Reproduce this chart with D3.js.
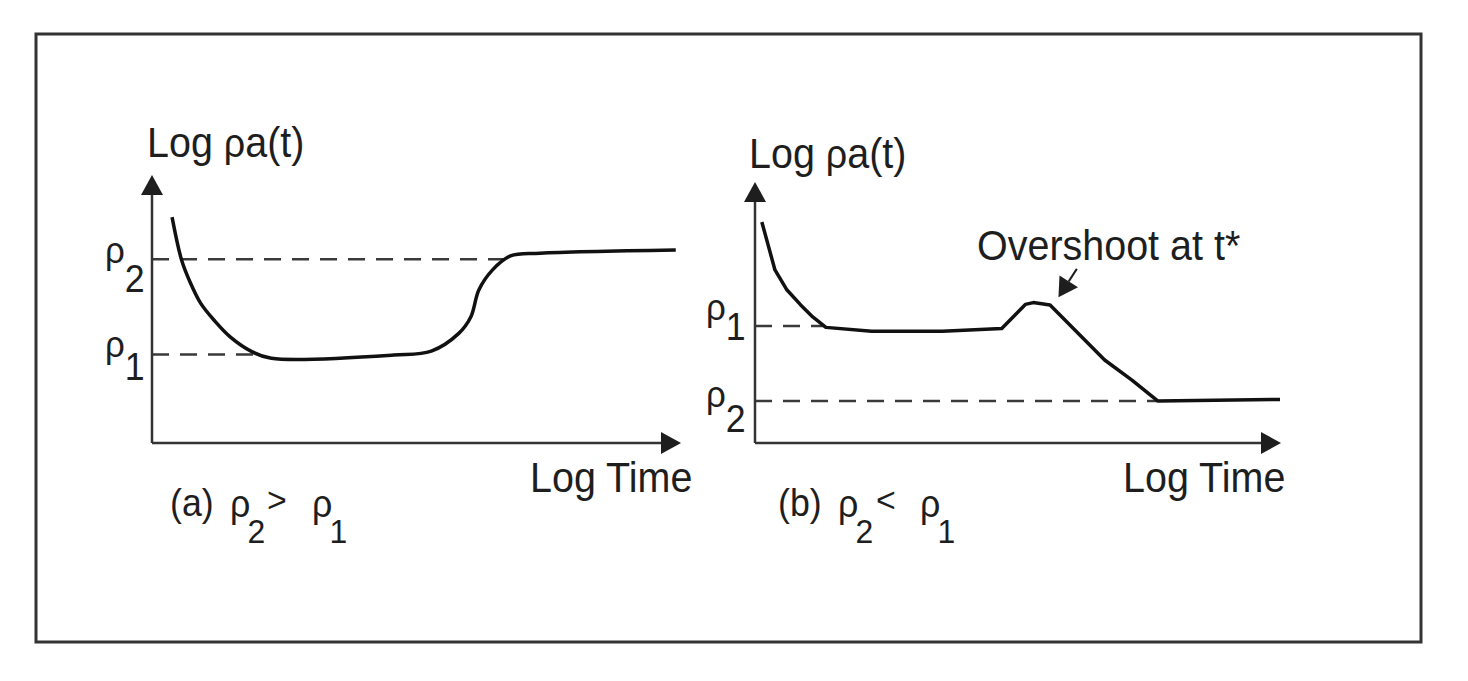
<!DOCTYPE html>
<html>
<head>
<meta charset="utf-8">
<script src="https://cdn.jsdelivr.net/npm/d3@7"></script>
<style>
  body { margin: 0; background: #fff; }
  text { font-family: "Liberation Sans", Arial, sans-serif; fill: #1e1e1e; }
</style>
</head>
<body>
<script>
// readings, x = log time, y = log rho (both 0..10 per panel)
const curveA = [[0.38,8.43],[0.56,6.83],[0.72,6.01],[0.92,5.22],[1.19,4.55],[1.48,3.96],
                [1.89,3.41],[2.26,3.16],[4.58,3.28],[5.29,3.43],[5.81,4.09],[6.04,4.71],
                [6.19,5.71],[6.45,6.46],[6.79,6.98],[7.35,7.08],[9.92,7.20]];
const curveB = [[0.13,8.47],[0.38,6.63],[0.61,5.86],[0.87,5.29],[1.10,4.83],[1.35,4.43],
                [2.22,4.28],[3.57,4.28],[4.70,4.39],[5.15,5.31],[5.30,5.38],[5.62,5.29],
                [6.66,3.18],[7.18,2.41],[7.67,1.61],[10.0,1.67]];

// dashed reference levels
const levelNamesA = ["2", "1"];
const levelValuesA = [6.86, 3.30];
const levelEndsA = [6.74, 2.0];
const levelNamesB = ["1", "2"];
const levelValuesB = [4.48, 1.61];
const levelEndsB = [1.31, 7.66];

// overshoot pointer (from, to) in panel b units
const overshootFrom = [6.13, 6.67];
const overshootTo = [5.78, 5.58];

const captionA = ["(a)", "2", ">", "1"];
const captionB = ["(b)", "2", "<", "1"];

const W = 1468, H = 681;
const svg = d3.select("body").append("svg")
    .attr("width", W)
    .attr("height", H);

svg.append("rect")
    .attr("x", 36).attr("y", 34)
    .attr("width", 1385).attr("height", 608)
    .attr("fill", "none")
    .attr("stroke", "#333")
    .attr("stroke-width", 3);

function txt(g, x, y, str, size) {
  return g.append("text")
      .attr("transform", `translate(${x},${y}) scale(0.94,1)`)
      .attr("font-size", size)
      .text(str);
}

// rho with a lowered index, one text element
function rho(g, x, y, sub, drop, rSize, sSize, gap) {
  const t = g.append("text")
      .attr("transform", `translate(${x},${y}) scale(0.94,1)`);
  t.append("tspan").attr("font-size", rSize).text("\u03c1");
  t.append("tspan").attr("font-size", sSize).attr("dx", gap).attr("dy", drop).text(sub);
  return t;
}

const panels = [
  {curve: curveA, names: levelNamesA, values: levelValuesA, ends: levelEndsA,
   x0: 152, x1: 680, yTop: 175, yLab: [147, 157], tLab: 530, rhoX: 105,
   offs: [[4, 33], [2, 25]], caption: captionA, capX: [170, 230, 267, 312]},
  {curve: curveB, names: levelNamesB, values: levelValuesB, ends: levelEndsB,
   x0: 755, x1: 1280, yTop: 182, yLab: [749, 168], tLab: 1123, rhoX: 706,
   offs: [[-6, 14], [6, 31]], caption: captionB, capX: [778, 838, 876, 920]}
];

const baseY = 443;

panels.forEach((p, i) => {
  const g = svg.append("g");
  const x = d3.scaleLinear().domain([0, 10]).range([p.x0, p.x1]);
  const y = d3.scaleLinear().domain([0, 10]).range([baseY, p.yTop]);

  // dashed levels
  p.values.forEach((v, k) => {
    g.append("line")
        .attr("x1", x(0)).attr("x2", x(p.ends[k]))
        .attr("y1", y(v)).attr("y2", y(v))
        .attr("stroke", "#3a3a3a")
        .attr("stroke-width", 2.5)
        .attr("stroke-dasharray", "17,11");
    const o = p.offs[k];
    rho(g, p.rhoX, y(v) + o[0], p.names[k], o[1] - o[0], 37, 38, 0);
  });

  // axes with arrow heads
  g.append("line")
      .attr("x1", x(0)).attr("x2", x(0))
      .attr("y1", baseY).attr("y2", y(10) + 12)
      .attr("stroke", "#333").attr("stroke-width", 2.5);
  g.append("line")
      .attr("x1", x(0)).attr("x2", x(10) - 12)
      .attr("y1", baseY).attr("y2", baseY)
      .attr("stroke", "#333").attr("stroke-width", 2.5);
  g.append("path")
      .attr("d", `M${x(0)},${y(10)}L${x(0) - 11},${y(10) + 20}L${x(0) + 11},${y(10) + 20}Z`)
      .attr("fill", "#1e1e1e");
  g.append("path")
      .attr("d", `M${x(10) + 1},${baseY}L${x(10) - 19},${baseY - 11}L${x(10) - 19},${baseY + 11}Z`)
      .attr("fill", "#1e1e1e");

  // curve
  const line = d3.line()
      .x(d => x(d[0]))
      .y(d => y(d[1]))
      .curve(i === 0 ? d3.curveCatmullRom.alpha(0.5) : d3.curveLinear);
  g.append("path")
      .datum(p.curve)
      .attr("d", line)
      .attr("fill", "none")
      .attr("stroke", "#111")
      .attr("stroke-width", 3.5)
      .attr("stroke-linejoin", "round");

  // axis titles
  const yl = g.append("text")
      .attr("transform", `translate(${p.yLab[0]},${p.yLab[1]}) scale(0.94,1)`)
      .attr("font-size", 42);
  yl.append("tspan").text("Log ");
  yl.append("tspan").attr("font-size", 40).text("\u03c1");
  yl.append("tspan").text("a(t)");
  txt(g, p.tLab, 492, "Log Time", 42);

  // caption
  const c = p.caption, cx = p.capX;
  txt(g, cx[0], 516, c[0], 38);
  rho(g, cx[1], 517, c[1], 26, 38, 34, -3);
  txt(g, cx[2], 512, c[2], 36);
  rho(g, cx[3], 517, c[3], 26, 38, 34, -3);

  if (i === 1) {
    txt(g, 977, 260, "Overshoot at t*", 42);
    const fx = x(overshootFrom[0]), fy = y(overshootFrom[1]);
    const tx = x(overshootTo[0]), ty = y(overshootTo[1]);
    const dx = tx - fx, dy = ty - fy, len = Math.hypot(dx, dy);
    const ux = dx / len, uy = dy / len;
    const hl = 19, hw = 11;
    const bx = tx - ux * hl, by = ty - uy * hl;
    g.append("line")
        .attr("x1", fx).attr("y1", fy).attr("x2", bx).attr("y2", by)
        .attr("stroke", "#1e1e1e").attr("stroke-width", 2);
    g.append("path")
        .attr("d", `M${tx},${ty}L${bx - uy * hw},${by + ux * hw}L${bx + uy * hw},${by - ux * hw}Z`)
        .attr("fill", "#1e1e1e");
  }
});
</script>
</body>
</html>
